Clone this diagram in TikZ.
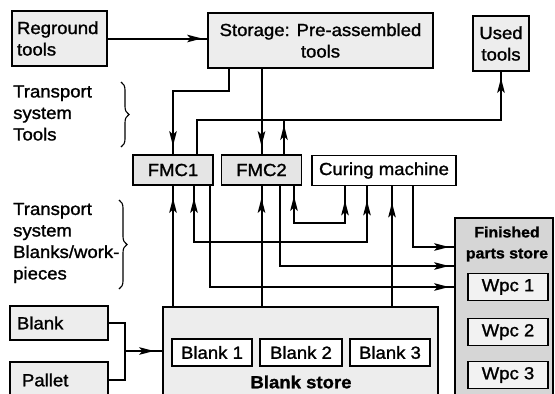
\documentclass[tikz,border=0pt]{standalone}
\usepackage{fontspec}
\setmainfont{Liberation Sans}[FakeStretch=1.06, FakeBold=1.3]
\usetikzlibrary{arrows.meta,decorations.markings,decorations.pathreplacing}
\newcommand\dgfont{\fontsize{17.5}{21.5}\selectfont}
\newcommand\dgsmall{\fontsize{15}{21}\selectfont\bfseries}
\tikzset{
  box/.style={draw, line width=1.7pt, fill=gray!14, inner sep=0pt, font=\dgfont, align=center},
  fmcbox/.style={box, fill=gray!20, minimum width=80pt, minimum height=30pt},
  whitebox/.style={box, fill=white},
  wpcbox/.style={box, fill=gray!10, minimum width=80pt, minimum height=27pt},
  blbox/.style={box, fill=white, minimum width=80pt, minimum height=27pt},
  lbl/.style={font=\dgfont, inner sep=0pt, anchor=west, align=left},
  conn/.style={line width=2pt},
  tip/.style={postaction={decorate,decoration={markings,mark=at position -#1 with {\arrow{Stealth[length=15pt,width=7.5pt,inset=3.5pt]}}}}},
  tipstart/.style={postaction={decorate,decoration={markings,mark=at position #1 with {\arrowreversed{Stealth[length=15pt,width=7.5pt,inset=3.5pt]}}}}},
  bracestyle/.style={line width=1.1pt, decorate, decoration={brace, amplitude=8pt}}
}
\begin{document}
\begin{tikzpicture}[x=1pt,y=-1pt]
\useasboundingbox (0,0) rectangle (555,394);
\clip (0,0) rectangle (555,394);
% top row
\node[box, minimum width=95pt, minimum height=55pt, text width=85pt, align=left] (reground) at (59.5,38.5) {Reground\\tools};
\node[box, minimum width=225pt, minimum height=55pt] (storage) at (320.5,40.5) {Storage: Pre-assembled\\tools};
\node[box, minimum width=56pt, minimum height=55pt] (used) at (501,43.5) {Used\\tools};
% machines
\node[fmcbox] (fmc1) at (173,170) {FMC1};
\node[fmcbox] (fmc2) at (261.5,170) {FMC2};
\node[whitebox, minimum width=144pt, minimum height=30pt] (curing) at (384,170.5) {Curing machine};
% labels
\node[lbl] (tlabel) at (13,113) {Transport\\system\\Tools};
\node[lbl] (blabel) at (13,243) {Transport\\system\\Blanks/work-\\pieces};
% stores
\node[box, minimum width=275pt, minimum height=113pt] (bstore) at (300.5,363.5) {};
\node[blbox] (blank1) at (212,352.5) {Blank 1};
\node[blbox, minimum width=82pt] (blank2) at (301,352.5) {Blank 2};
\node[blbox] (blank3) at (390,352.5) {Blank 3};
\node[font=\dgfont\bfseries, inner sep=0pt] (bstorelbl) at (301,382) {Blank store};
\node[box, fill=gray!32, minimum width=98pt, minimum height=202pt] (finished) at (504,319) {};
\node[font=\dgsmall, align=center, inner sep=0pt] (finlbl) at (507,244) {Finished\\parts store};
\node[wpcbox] (wpc1) at (508,287) {Wpc 1};
\node[wpcbox] (wpc2) at (508,332) {Wpc 2};
\node[wpcbox] (wpc3) at (508,375) {Wpc 3};
\node[box, minimum width=98pt, minimum height=34pt, text width=84pt, align=left] (blank) at (59,323) {Blank};
\node[box, minimum width=98pt, minimum height=36pt, text width=84pt, align=left] (pallet) at (59,380) {\hspace*{5pt}Pallet};
% helper coordinates
\coordinate (tb) at (0,120);
\coordinate (y247) at (0,247);
\coordinate (y266) at (0,266);
\coordinate (y287) at (0,287);
\coordinate (join) at (125,351);
% connectors
\draw[conn, tip=5pt] (reground.east) -- (reground.east -| storage.west);
\draw[conn, tip=8pt] ([xshift=-91.5pt]storage.south) -- ++(0,22) -| (fmc1.north);
\draw[conn, tip=8pt] (storage.south -| fmc2.north) -- (fmc2.north);
\draw[conn, tip=6pt] ([xshift=24pt]fmc1.north) -- ([xshift=24pt]fmc1.north |- tb) -| (used.south);
\draw[conn, tip=5pt] ([xshift=22.5pt]fmc2.north) -- ([xshift=22.5pt]fmc2.north |- tb);
\draw[conn, tip=12pt] (bstore.north -| fmc1.south) -- (fmc1.south);
\draw[conn, tip=12pt] (bstore.north -| fmc2.south) -- (fmc2.south);
\draw[conn, tip=16pt] ([xshift=8pt]curing.south |- bstore.north) -- ([xshift=8pt]curing.south);
\draw[conn, tip=12pt, tipstart=14pt] ([xshift=-17pt]curing.south) -- ++(0,56) -| ([xshift=21pt]fmc1.south);
\draw[conn, tip=14pt, tipstart=10pt] ([xshift=32.5pt]fmc2.south) -- ++(0,37) -| ([xshift=-39pt]curing.south);
\draw[conn, tip=5pt] ([xshift=37pt]fmc1.south) |- (finished.west |- y287);
\draw[conn, tip=5pt] ([xshift=18.5pt]fmc2.south) |- (finished.west |- y266);
\draw[conn, tip=5pt] ([xshift=29pt]curing.south) |- (finished.west |- y247);
\draw[conn] (blank.east) -| (join) |- (pallet.east);
\draw[conn, tip=8pt] (join) -- (join -| bstore.west);
% braces
\draw[bracestyle] (121,82) -- (121,147);
\draw[bracestyle] (119,200) -- (119,289);
\end{tikzpicture}
\end{document}
